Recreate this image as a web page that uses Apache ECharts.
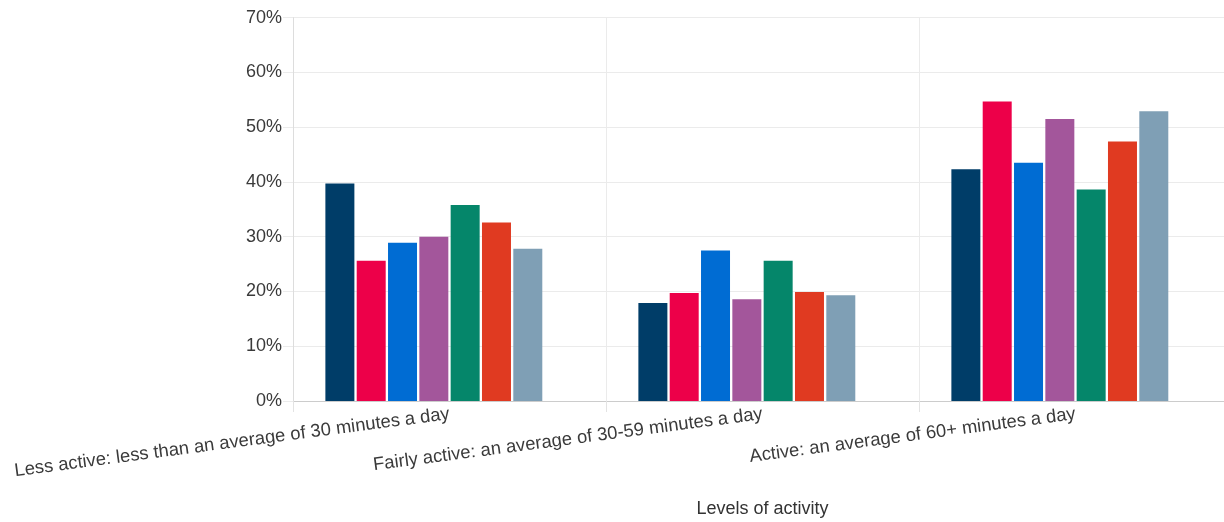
<!DOCTYPE html>
<html>
<head>
<meta charset="utf-8">
<script src="https://cdn.jsdelivr.net/npm/echarts@6/dist/echarts.min.js"></script>
<style>
  html, body { margin: 0; padding: 0; background: #ffffff; }
  #chart { width: 1224px; height: 522px; }
</style>
</head>
<body>
<div id="chart"></div>
<script>
// Categories (x axis)
const categories = [
  'Less active: less than an average of 30 minutes a day',
  'Fairly active: an average of 30-59 minutes a day',
  'Active: an average of 60+ minutes a day'
];

// Y axis ticks (percent)
const yTicks = [0, 10, 20, 30, 40, 50, 60, 70];

// Series values (percent), one array per group
const series1 = [39.7, 17.9, 42.3];
const series2 = [25.6, 19.7, 54.7];
const series3 = [28.9, 27.5, 43.5];
const series4 = [30.0, 18.6, 51.5];
const series5 = [35.8, 25.6, 38.6];
const series6 = [32.6, 19.9, 47.4];
const series7 = [27.8, 19.3, 52.9];
// An eighth (empty) series slot, as in the original chart
const series8 = [];

const seriesNames = ['Series 1', 'Series 2', 'Series 3', 'Series 4', 'Series 5', 'Series 6', 'Series 7', 'Series 8'];
const seriesValues = [series1, series2, series3, series4, series5, series6, series7, series8];
const colors = ['#003d68', '#ed0049', '#006cd3', '#a3569b', '#05866a', '#e03a21', '#7f9fb5', '#cccccc'];

const FONT = '"Liberation Sans", Arial, sans-serif';

const chart = echarts.init(document.getElementById('chart'), null, { renderer: 'canvas' });

const option = {
  animation: false,
  backgroundColor: '#ffffff',
  color: colors,
  grid: { left: 293, right: -8, top: 17.6, bottom: 121, containLabel: false, outerBoundsMode: 'none' },
  xAxis: {
    type: 'category',
    data: categories,
    boundaryGap: true,
    name: 'Levels of activity',
    nameLocation: 'middle',
    nameGap: 99,
    nameTextStyle: { fontFamily: FONT, fontSize: 18, color: '#333333' },
    axisLine: { show: true, lineStyle: { color: '#cccccc', width: 1 } },
    axisTick: { show: true, length: 11, alignWithLabel: false, lineStyle: { color: '#e3e3e3' } },
    axisLabel: {
      interval: 0,
      rotate: 7.5,
      margin: 13,
      fontFamily: FONT,
      fontSize: 18.4,
      color: '#3a3a3a'
    },
    splitLine: { show: true, lineStyle: { color: '#ebebeb', width: 1 } }
  },
  yAxis: {
    type: 'value',
    min: yTicks[0],
    max: yTicks[yTicks.length - 1],
    interval: yTicks[1] - yTicks[0],
    axisLine: { show: true, lineStyle: { color: '#dddddd', width: 1 } },
    axisTick: { show: true, length: 10, lineStyle: { color: '#ebebeb' } },
    axisLabel: {
      margin: 11,
      fontFamily: FONT,
      fontSize: 18,
      color: '#3a3a3a',
      formatter: '{value}%'
    },
    splitLine: { show: true, lineStyle: { color: '#ebebeb', width: 1 } }
  },
  series: seriesValues.map((vals, i) => ({
    name: seriesNames[i],
    type: 'bar',
    data: vals,
    barWidth: 29,
    barGap: '8%',
    itemStyle: { color: colors[i] },
    emphasis: { disabled: true }
  }))
};

chart.setOption(option);
</script>
</body>
</html>
